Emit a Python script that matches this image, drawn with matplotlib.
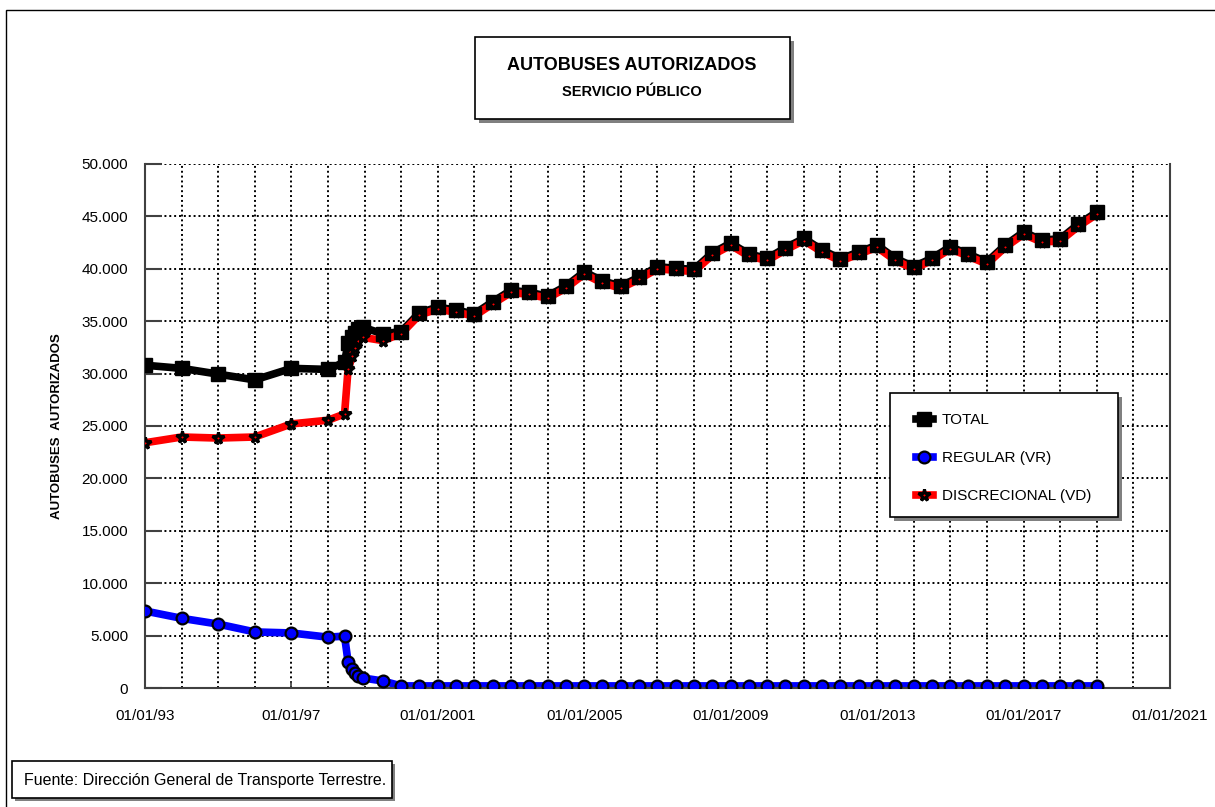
import numpy as np
import pandas as pd
import matplotlib
matplotlib.use("Agg")
import matplotlib.pyplot as plt
import matplotlib.dates as mdates
from matplotlib.patches import Rectangle
from matplotlib.ticker import FuncFormatter

plt.rcParams['font.family'] = ['Liberation Sans', 'DejaVu Sans']

# fechas de cada dato (anual hasta 1998, luego casi mensual, luego semestral)
fechas = ["1993-01-01", "1994-01-01", "1995-01-01", "1996-01-01", "1997-01-01", "1998-01-01",
          "1998-06-15", "1998-07-20", "1998-09-01", "1998-10-01", "1998-11-01", "1998-12-20",
          "1999-07-01", "2000-01-01", "2000-07-01", "2001-01-01", "2001-07-01", "2002-01-01",
          "2002-07-01", "2003-01-01", "2003-07-01", "2004-01-01", "2004-07-01", "2005-01-01",
          "2005-07-01", "2006-01-01", "2006-07-01", "2007-01-01", "2007-07-01", "2008-01-01",
          "2008-07-01", "2009-01-01", "2009-07-01", "2010-01-01", "2010-07-01", "2011-01-01",
          "2011-07-01", "2012-01-01", "2012-07-01", "2013-01-01", "2013-07-01", "2014-01-01",
          "2014-07-01", "2015-01-01", "2015-07-01", "2016-01-01", "2016-07-01", "2017-01-01",
          "2017-07-01", "2018-01-01", "2018-07-01", "2019-01-01"]

total = [30800, 30500, 29950, 29400, 30500, 30400,
         31100, 32900, 33500, 33900, 34300, 34400,
         33800, 34000, 35800, 36350, 36050, 35700,
         36850, 37950, 37750, 37400, 38350, 39700,
         38850, 38350, 39200, 40200, 40050, 39950,
         41500, 42450, 41400, 41000, 42000, 42900,
         41800, 40950, 41600, 42250, 41000, 40200,
         41000, 42100, 41400, 40650, 42250, 43500,
         42750, 42850, 44250, 45400]

regular = [7350, 6650, 6100, 5350, 5250, 4850,
           4950, 2500, 1800, 1430, 1150, 950,
           670, 200, 200, 200, 200, 200,
           200, 200, 200, 200, 200, 200,
           200, 200, 200, 200, 200, 200,
           200, 200, 200, 200, 200, 200,
           200, 200, 200, 200, 200, 200,
           200, 200, 200, 200, 200, 200,
           200, 200, 200, 200]

discrecional = [23400, 23950, 23850, 23950, 25200, 25550,
                26150, 30400, 31700, 32450, 33150, 33450,
                33150, 33800, 35600, 36150, 35850, 35500,
                36650, 37750, 37550, 37200, 38150, 39500,
                38650, 38150, 39000, 40000, 39850, 39750,
                41300, 42250, 41200, 40800, 41800, 42700,
                41600, 40750, 41400, 42050, 40800, 40000,
                40800, 41900, 41200, 40450, 42050, 43300,
                42550, 42650, 44050, 45200]

tick_fechas = ["1993-01-01", "1997-01-01", "2001-01-01", "2005-01-01",
               "2009-01-01", "2013-01-01", "2017-01-01", "2021-01-01"]
tick_labels = ["01/01/93", "01/01/97", "01/01/2001", "01/01/2005",
               "01/01/2009", "01/01/2013", "01/01/2017", "01/01/2021"]

x = pd.to_datetime(fechas)

W, H = 1215, 807
fig = plt.figure(figsize=(W / 100, H / 100), dpi=100)
ax = fig.add_axes([145 / W, 1 - 688 / H, 1025 / W, 524 / H])

# lineas primero, marcadores encima (como Excel)
l_tot, = ax.plot(x, total, color="black", lw=5.5, zorder=2)
l_vr, = ax.plot(x, regular, color="#0000ff", lw=5.5, zorder=2)
l_vd, = ax.plot(x, discrecional, color="#ff0000", lw=5.5, zorder=2.1)
m_tot, = ax.plot(x, total, ls="none", marker="s", ms=10.5, mfc="black", mec="black", zorder=3)
m_vr, = ax.plot(x, regular, ls="none", marker="o", ms=8.5, mfc="#0000ff", mec="black", mew=1.6, zorder=3)
m_vd, = ax.plot(x, discrecional, ls="none", marker="*", ms=8.5, mfc="#ff0000", mec="black", mew=2.2, zorder=3.1)

ax.set_xlim(pd.Timestamp("1993-01-01"), pd.Timestamp("2021-01-01"))
ax.set_ylim(0, 50000)
ax.set_yticks(np.arange(0, 50001, 5000))
ax.yaxis.set_major_formatter(FuncFormatter(lambda v, p: f"{int(v):,}".replace(",", ".")))
ax.set_xticks(pd.to_datetime(tick_fechas))
ax.set_xticklabels(tick_labels)
ax.xaxis.set_minor_locator(mdates.YearLocator(1))

ax.grid(True, which="major", axis="both", color="black", ls=(0, (1, 1.5)), lw=1.4)
ax.grid(True, which="minor", axis="x", color="black", ls=(0, (1, 1.5)), lw=1.4)
ax.set_axisbelow(True)

for s in ["left", "bottom", "right"]:
    ax.spines[s].set_color("#404040")
    ax.spines[s].set_linewidth(1.5)
ax.spines["top"].set_visible(False)

ax.tick_params(axis="y", direction="in", length=12, width=1.5, color="#404040", pad=12, labelsize=11)
ax.tick_params(axis="x", which="major", direction="in", length=4, width=1.2, color="#404040", pad=15, labelsize=11)
ax.tick_params(axis="x", which="minor", length=0)

ax.set_ylabel("AUTOBUSES  AUTORIZADOS", fontsize=9.5, fontweight="bold")
ax.yaxis.set_label_coords(-(145 - 63) / 1025, 0.5)


def caja(x0, y0, x1, y1, sombra):
    # caja con sombra gris, coordenadas en pixeles desde arriba
    fig.add_artist(Rectangle(((x0 + sombra) / W, 1 - (y1 + sombra) / H), (x1 - x0) / W, (y1 - y0) / H,
                             transform=fig.transFigure, facecolor="#808080", edgecolor="none", zorder=5))
    fig.add_artist(Rectangle((x0 / W, 1 - y1 / H), (x1 - x0) / W, (y1 - y0) / H,
                             transform=fig.transFigure, facecolor="white", edgecolor="black", lw=1.2, zorder=6))


# marco exterior
fig.add_artist(Rectangle((6 / W, -0.1), 1.2, 1.1 - 10 / H, transform=fig.transFigure,
                         fill=False, edgecolor="black", lw=1, zorder=1))

caja(475, 37, 790, 119, 4)
fig.text(632 / W, 1 - 65 / H, "AUTOBUSES AUTORIZADOS", ha="center", va="center",
         fontsize=13, fontweight="bold", zorder=7)
fig.text(632 / W, 1 - 92 / H, "SERVICIO PÚBLICO", ha="center", va="center",
         fontsize=10.5, fontweight="bold", zorder=7)

caja(890, 393, 1118, 517, 4)
leg = fig.legend([(l_tot, m_tot), (l_vr, m_vr), (l_vd, m_vd)],
                 ["TOTAL", "REGULAR (VR)", "DISCRECIONAL (VD)"],
                 loc="upper left", bbox_to_anchor=(916 / W, 1 - 413 / H), frameon=False,
                 fontsize=11, handlelength=1.1, handletextpad=0.6, labelspacing=1.58,
                 borderpad=0, borderaxespad=0)
leg.set_zorder(8)

caja(12, 761, 392, 798, 3)
fig.text(24 / W, 1 - 780 / H, "Fuente: Dirección General de Transporte Terrestre.",
         ha="left", va="center", fontsize=11.5, zorder=7)

fig.savefig("out.png", dpi=100, facecolor="white")
